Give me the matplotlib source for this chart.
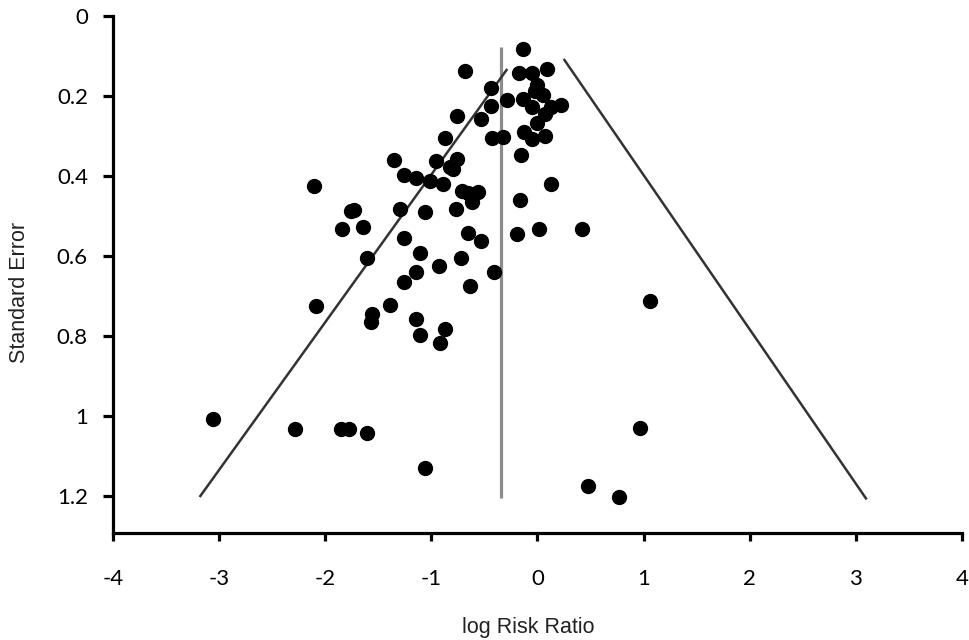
import matplotlib
matplotlib.use("Agg")
import matplotlib.pyplot as plt

# study estimates
log_rr = [-0.135, -0.683, -0.173, -0.048, 0.086, -0.442, 0.0, -0.026, 0.052, -0.285,
          -0.135, -0.048, -0.442, 0.13, 0.217, 0.068, -0.761, -0.533, 0.0, -0.867,
          -0.433, -0.323, -0.13, -0.048, 0.068, -1.348, -0.955, -0.754, -0.829, -0.80,
          -0.158, -1.261, -1.143, -1.011, -0.886, 0.13, -0.714, -0.651, -0.557, -0.62,
          -1.293, -1.058, -0.767, -0.167, -2.105, -1.762, -1.73, -1.84, -1.643, -1.605,
          -0.651, -0.536, -1.261, -1.105, -0.927, -0.72, -0.407, -1.146, -1.255, -0.636,
          -2.09, -1.386, -1.558, -1.573, -1.146, -0.871, -1.105, -0.923, -3.06, -2.286,
          -1.855, -1.777, -1.605, -1.058, 0.968, 0.48, 0.771, -0.191, 0.011, 0.418,
          1.063]
std_err = [0.083, 0.137, 0.143, 0.143, 0.133, 0.181, 0.173, 0.188, 0.198, 0.210,
           0.208, 0.228, 0.225, 0.228, 0.223, 0.246, 0.250, 0.258, 0.268, 0.306,
           0.306, 0.302, 0.290, 0.308, 0.299, 0.360, 0.363, 0.358, 0.377, 0.383,
           0.348, 0.398, 0.406, 0.412, 0.420, 0.420, 0.437, 0.443, 0.439, 0.464,
           0.483, 0.490, 0.483, 0.460, 0.424, 0.487, 0.485, 0.533, 0.528, 0.606,
           0.542, 0.563, 0.556, 0.592, 0.625, 0.604, 0.641, 0.639, 0.664, 0.674,
           0.724, 0.723, 0.745, 0.764, 0.758, 0.783, 0.798, 0.817, 1.008, 1.033,
           1.033, 1.033, 1.042, 1.131, 1.029, 1.175, 1.203, 0.546, 0.533, 0.533,
           0.713]

# pooled estimate and funnel limits
pooled_x = [-0.34, -0.34]
pooled_y = [0.077, 1.206]
left_x = [-3.177, -0.292]
left_y = [1.2, 0.135]
right_x = [0.254, 3.095]
right_y = [0.11, 1.206]

x_ticks = [-4, -3, -2, -1, 0, 1, 2, 3, 4]
y_ticks = [0, 0.2, 0.4, 0.6, 0.8, 1, 1.2]

fig = plt.figure(figsize=(9.7, 6.4), dpi=100)
ax = fig.add_axes([113 / 970, 1 - 533 / 640, 849 / 970, 517 / 640])

ax.plot(pooled_x, pooled_y, color="#8c8c8c", lw=2.3, solid_capstyle="butt")
ax.plot(left_x, left_y, color="#333333", lw=1.8)
ax.plot(right_x, right_y, color="#333333", lw=1.8)
ax.scatter(log_rr, std_err, s=100, color="black", marker="o", zorder=3)

ax.set_xlim(-4, 4)
ax.set_ylim(1.2925, 0)
ax.set_xticks(x_ticks)
ax.set_xticklabels([str(t) for t in x_ticks])
ax.set_yticks(y_ticks)
ax.set_yticklabels(["0", "0.2", "0.4", "0.6", "0.8", "1", "1.2"])

for side in ["top", "right"]:
    ax.spines[side].set_visible(False)
for side in ["left", "bottom"]:
    ax.spines[side].set_linewidth(2.3)

ax.tick_params(axis="x", length=6, width=2.3, pad=20)
ax.tick_params(axis="y", length=7, width=2.3, pad=11)
for lbl in ax.get_xticklabels() + ax.get_yticklabels():
    lbl.set_fontfamily("Lato")
    lbl.set_fontsize(16)

fig.text(528 / 970, 1 - 633 / 640, "log Risk Ratio", family="Liberation Sans",
         fontsize=15.5, ha="center", va="baseline", color="#222222")
fig.text(20 / 970, 1 - 292 / 640, "Standard Error", family="Liberation Sans",
         fontsize=15.5, ha="center", va="center", rotation=90, color="#222222")

fig.savefig("out.png", dpi=100)
